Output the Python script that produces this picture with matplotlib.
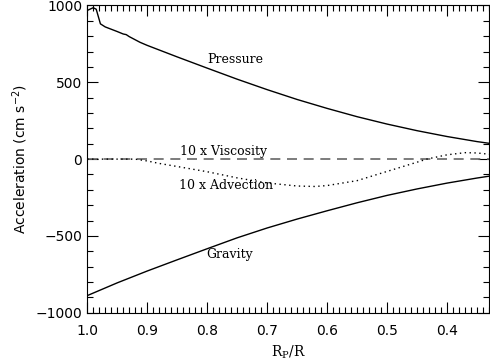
import numpy as np
import matplotlib
matplotlib.use("Agg")
import matplotlib.pyplot as plt
from matplotlib.ticker import MultipleLocator

# radius fraction R_p/R and the force terms (cm s^-2)
r_press = [1.0, 0.99, 0.985, 0.978, 0.97, 0.96, 0.95, 0.94, 0.935, 0.93, 0.912,
           0.9, 0.85, 0.8, 0.75, 0.7, 0.65, 0.6, 0.55, 0.5, 0.45,
           0.4, 0.35, 0.33]
pressure = [967, 985, 975, 880, 860, 845, 830, 814, 810, 797, 760,
            740, 665, 592, 520, 452, 388, 330, 276, 228, 185,
            147, 114, 103]

r_grav = [1.0, 0.95, 0.9, 0.85, 0.8, 0.75, 0.7, 0.65, 0.6, 0.55,
          0.5, 0.45, 0.4, 0.35, 0.33]
gravity = [-888, -805, -728, -655, -583, -512, -448, -390, -336, -284,
           -236, -194, -156, -123, -111]

r_adv = [1.0, 0.95, 0.92, 0.9, 0.88, 0.85, 0.8, 0.75, 0.7, 0.65, 0.62, 0.6,
         0.55, 0.5, 0.45, 0.434, 0.4, 0.37, 0.35, 0.33]
advection = [0, 0, 0, -12, -28, -48, -82, -122, -155, -175, -178, -172,
             -140, -80, -20, 0, 28, 42, 40, 32]

r_visc = [1.0, 0.33]
viscosity = [0, 0]

fig = plt.figure(figsize=(4.9, 3.6), dpi=100)
ax = fig.add_axes([0.178, 0.131, 0.82, 0.854])

ax.plot(r_visc, viscosity, color='#666666', lw=1.2, ls=(0, (6, 4)))
ax.plot(r_adv, advection, color='black', lw=1.0, ls=(0, (1, 2.5)))
ax.plot(r_press, pressure, color='black', lw=1.0)
ax.plot(r_grav, gravity, color='black', lw=1.0)

tfont = dict(family='DejaVu Serif', fontsize=9, ha='center', va='center')
ax.text(0.753, 645, 'Pressure', **tfont)
ax.text(0.773, 50, '10 x Viscosity', **tfont)
ax.text(0.768, -173, '10 x Advection', **tfont)
ax.text(0.762, -623, 'Gravity', **tfont)

ax.set_xlim(1.0, 0.33)
ax.set_ylim(-1000, 1000)
ax.xaxis.set_major_locator(MultipleLocator(0.1))
ax.xaxis.set_minor_locator(MultipleLocator(0.01))
ax.yaxis.set_major_locator(MultipleLocator(500))
ax.yaxis.set_minor_locator(MultipleLocator(100))
ax.set_xticks([1.0, 0.9, 0.8, 0.7, 0.6, 0.5, 0.4])
ax.set_xticklabels(['1.0', '0.9', '0.8', '0.7', '0.6', '0.5', '0.4'])
ax.tick_params(which='both', direction='in', top=True, right=True, labelsize=10)
ax.tick_params(which='major', length=8, width=0.8)
ax.tick_params(which='minor', length=4, width=0.8)
ax.tick_params(axis='x', pad=8)

ax.set_xlabel(r'R$_\mathregular{P}$/R', family='DejaVu Serif', fontsize=10)
ax.set_ylabel(r'Acceleration (cm s$^\mathregular{-2}$)', fontsize=10, labelpad=4)

fig.savefig('out.png', dpi=100)
